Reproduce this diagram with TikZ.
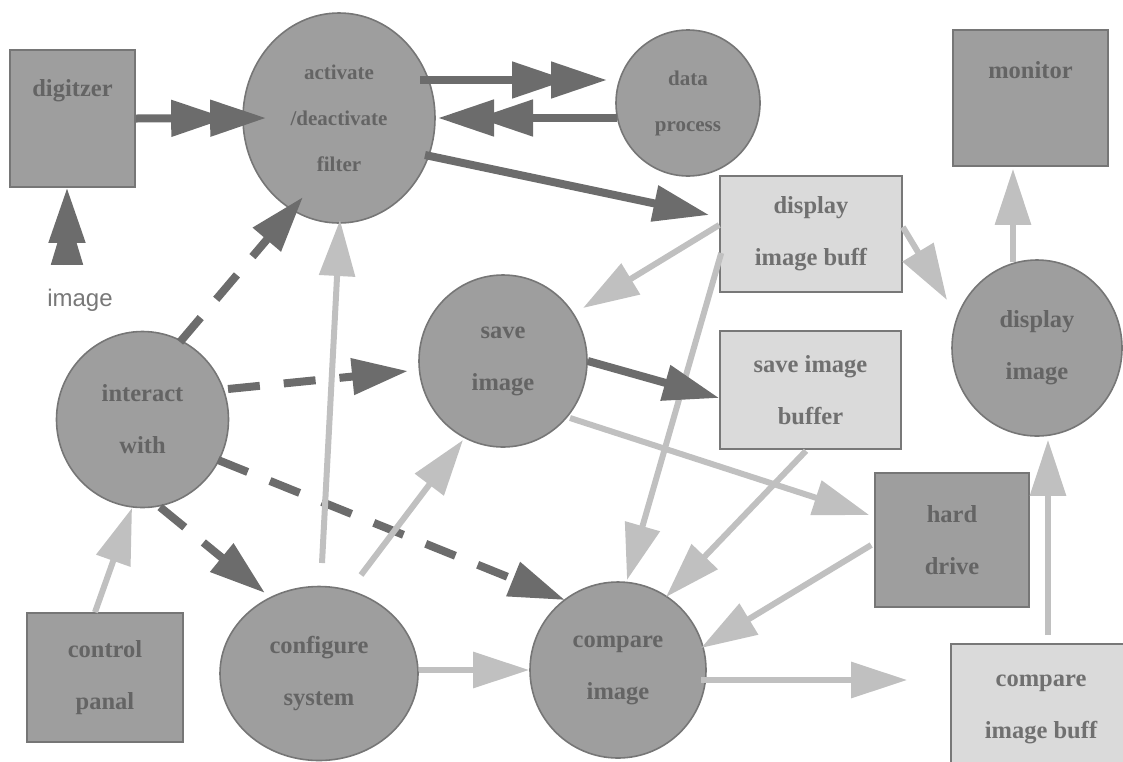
\documentclass[tikz,border=0pt]{standalone}
\usepackage{fontspec}
\setmainfont{Liberation Serif}
\newfontfamily\labelsans{Liberation Sans}
\usetikzlibrary{arrows.meta,shapes.geometric,calc}
\definecolor{ndark}{RGB}{158,158,158}
\definecolor{ndarkline}{RGB}{118,118,118}
\definecolor{ndarktext}{RGB}{100,100,100}
\definecolor{nlight}{RGB}{218,218,218}
\definecolor{nlightline}{RGB}{120,120,120}
\definecolor{nlighttext}{RGB}{112,112,112}
\definecolor{adark}{RGB}{108,108,108}
\definecolor{alight}{RGB}{192,192,192}
\definecolor{lbl}{RGB}{120,120,120}
\begin{document}
\begin{tikzpicture}[x=0.5pt,y=-0.5pt,
  txt/.style={font=\bfseries\fontsize{12.25}{26}\selectfont, align=center},
  smalltxt/.style={font=\bfseries\fontsize{10.5}{23}\selectfont, align=center},
  proc/.style={ellipse, draw=ndarkline, line width=0.8pt, fill=ndark, text=ndarktext, inner sep=0pt},
  darkbox/.style={rectangle, draw=ndarkline, line width=0.8pt, fill=ndark, text=ndarktext, inner sep=0pt},
  lightbox/.style={rectangle, draw=nlightline, line width=0.8pt, fill=nlight, text=nlighttext, inner sep=0pt},
  darkarrow/.style={draw=adark, line width=4pt, -{Triangle[length=28pt,width=17.5pt]}},
  darkdouble/.style={draw=adark, line width=4pt, -{Triangle[length=28pt,width=17.5pt,sep=-8.5pt] Triangle[length=28pt,width=17.5pt]}},
  darkstack/.style={draw=adark, line width=4pt, -{Triangle[length=27.5pt,width=15pt,sep=-16.5pt] Triangle[length=27.5pt,width=17.5pt]}},
  dashedarrow/.style={darkarrow, dash pattern=on 16pt off 12pt},
  lightarrow/.style={draw=alight, line width=3pt, -{Triangle[length=28pt,width=17.5pt]}}
]
\useasboundingbox (0,0) rectangle (1123,761);
\clip (0,0) rectangle (1123,761);

% nodes
\node[darkbox, minimum width=62.5pt, minimum height=68.5pt,
  label={[txt, text=ndarktext, yshift=14pt]center:digitzer}] (digit) at (72.5,118.5) {};
\node[proc, smalltxt, minimum width=96pt, minimum height=105pt] (filter) at (339,118) {activate\\/deactivate\\filter};
\node[proc, smalltxt, minimum width=72pt, minimum height=73pt] (data) at (688,103) {data\\process};
\node[lightbox, txt, minimum width=91pt, minimum height=58pt] (dispbuf) at (811,234) {display\\image buff};
\node[darkbox, minimum width=77.5pt, minimum height=68pt,
  label={[txt, text=ndarktext, yshift=14pt]center:monitor}] (monitor) at (1030.5,98) {};
\node[proc, txt, minimum width=85pt, minimum height=88pt] (dispimg) at (1037,348) {display\\image};
\node[proc, txt, minimum width=84pt, minimum height=86pt] (save) at (503,361) {save\\image};
\node[lightbox, txt, minimum width=90.5pt, minimum height=59pt] (savebuf) at (810.5,390) {save image\\buffer};
\node[proc, txt, minimum width=86pt, minimum height=88pt] (interact) at (142.5,419.5) {interact\\with};
\node[darkbox, txt, minimum width=77pt, minimum height=67pt] (hard) at (952,540) {hard\\drive};
\node[darkbox, txt, minimum width=78pt, minimum height=64.5pt] (control) at (105,677.5) {control\\panal};
\node[proc, txt, minimum width=99pt, minimum height=87pt] (config) at (319,673.5) {configure\\system};
\node[proc, txt, minimum width=88pt, minimum height=88pt] (compare) at (618,670) {compare\\image};
\node[lightbox, txt, minimum width=90pt, minimum height=65.5pt] (cmpbuf) at (1041,709.5) {compare\\image buff};
\node[font=\labelsans\fontsize{12}{14}\selectfont, text=lbl] (imglbl) at (80,300) {image};
\coordinate (imgsrc) at (67,265);
\coordinate (cmpin) at ($(cmpbuf.west)+(-43,-29.5)$);

% connectors
\draw[darkstack] (imgsrc) -- (imgsrc |- digit.south);
\draw[darkdouble] (digit.east) -- ($(filter.west)+(24,0)$);
\draw[darkdouble] ($(filter.center)+(81,-38)$) -- ($(data.center)+(-81,-23)$);
\draw[darkdouble] ($(data.center)+(-71,15)$) -- ($(filter.center)+(99,0)$);
\draw[darkarrow] ($(filter.center)+(86,37)$) -- ($(dispbuf.west)+(-10,-19)$);
\draw[lightarrow] ($(dispbuf.west)+(0,-9)$) -- ($(save.center)+(80,-53)$);
\draw[lightarrow] ($(dispbuf.west)+(2,19)$) -- ($(compare.center)+(9,-90)$);
\draw[lightarrow] ($(dispbuf.east)+(0,-7)$) -- ($(dispimg.center)+(-90,-48)$);
\draw[lightarrow] ($(dispimg.center)+(-24,-86)$) -- ($(monitor.south)+(-17.5,2)$);
\draw[lightarrow] ($(cmpbuf.north)+(7,-8)$) -- ($(dispimg.south)+(11,3)$);
\draw[lightarrow] ($(compare.center)+(83,10)$) -- (cmpin);
\draw[lightarrow] ($(hard.west)+(-3,5)$) -- ($(compare.center)+(83,-22)$);
\draw[lightarrow] ($(savebuf.south)+(-4.5,1)$) -- ($(compare.center)+(48,-73)$);
\draw[lightarrow] ($(save.center)+(67,57)$) -- ($(hard.west)+(-5,-25)$);
\draw[darkarrow] (save.east) -- ($(savebuf.west)+(0,8)$);
\draw[dashedarrow] ($(interact.center)+(85.5,-30.5)$) -- ($(save.center)+(-95,10)$);
\draw[dashedarrow] ($(interact.center)+(37.5,-77.5)$) -- ($(filter.center)+(-36,79)$);
\draw[dashedarrow] ($(interact.center)+(75.5,40.5)$) -- ($(compare.center)+(-53,-70)$);
\draw[dashedarrow] ($(interact.center)+(17.5,87.5)$) -- ($(config.center)+(-54,-80.5)$);
\draw[lightarrow] ($(control.north)+(-10,0)$) -- ($(interact.center)+(-10.5,88.5)$);
\draw[lightarrow] ($(config.center)+(3,-110.5)$) -- ($(filter.center)+(1,102)$);
\draw[lightarrow] ($(config.center)+(42,-98.5)$) -- ($(save.center)+(-40,79)$);
\draw[lightarrow] ($(config.east)+(0,-3.5)$) -- (compare.west);
\end{tikzpicture}
\end{document}
